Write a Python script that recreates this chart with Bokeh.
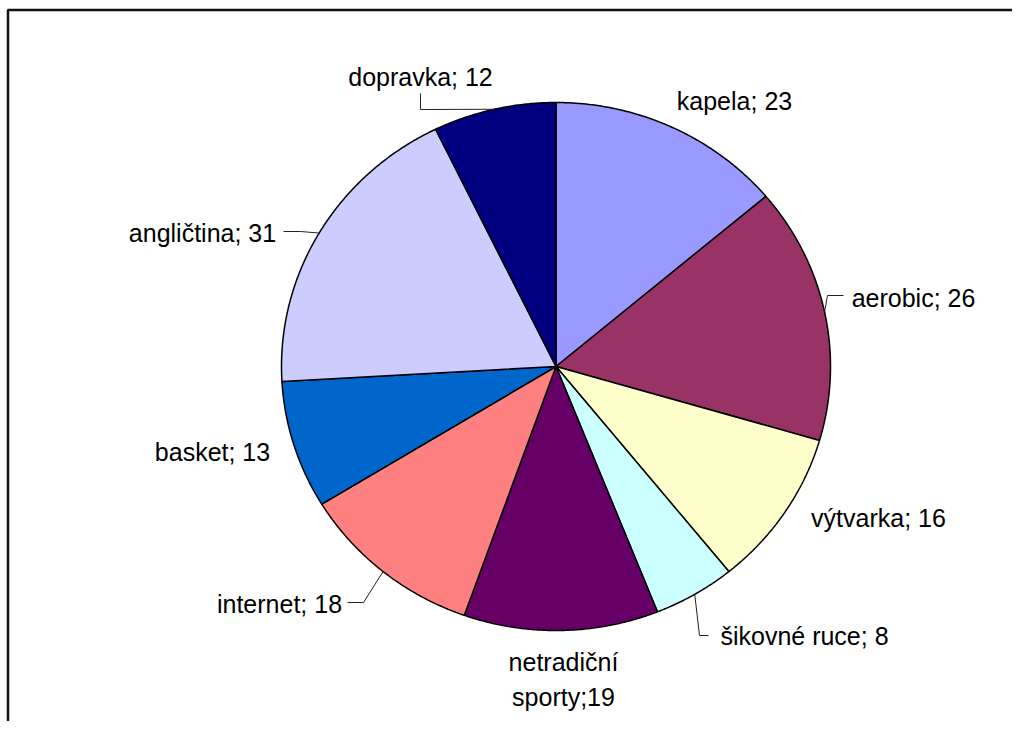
import numpy as np
from bokeh.plotting import figure
from bokeh.models import Range1d, ColumnDataSource
from bokeh.core.properties import value
from bokeh.embed import file_html
from bokeh.resources import INLINE

# ---- data ----
categories = ["kapela", "aerobic", "výtvarka", "šikovné ruce", "netradiční sporty",
              "internet", "basket", "angličtina", "dopravka"]
values = [23, 26, 16, 8, 19, 18, 13, 31, 12]
colors = ["#9999FF", "#993366", "#FFFFCC", "#CCFFFF", "#660066",
          "#FF8080", "#0066CC", "#CCCCFF", "#000080"]

# ---- layout (pixel-like coords, y downward) ----
W, H = 1012, 721
CX, CY = 555.5, 366.0
RX, RY = 274.5, 264.0
label_pos = [(734, 100), (913, 297), (878, 517), (804, 635), (563, 679),
             (279, 603), (212, 451), (202, 232), (420, 76)]
# leader-line points after the pie edge point (None = no leader)
leaders = [None, [(827, 295), (843, 295)], None, [(699, 635), (708, 635)], None,
           [(363, 602), (347, 602)], None, [(300, 231), (283, 231)],
           [(420, 109), (420, 93)]]
frame_path = ([7.5, 7.5, W], [H, 9.5, 9.5])

p = figure(width=W, height=H, x_range=Range1d(0, W), y_range=Range1d(H, 0),
           output_backend="svg", toolbar_location=None, min_border=0)
p.axis.visible = False
p.grid.visible = False
p.outline_line_color = None
p.background_fill_color = "white"
p.border_fill_color = "white"

# frame (top & left edges visible in the reference)
p.line(frame_path[0], frame_path[1], line_color="#111111", line_width=2.5)

total = float(sum(values))
xs, ys, mids = [], [], []
cum = 0.0
for v in values:
    a0 = cum / total * 2 * np.pi
    a1 = (cum + v) / total * 2 * np.pi
    t = np.linspace(a0, a1, max(8, int(v * 6)))
    xs.append([CX] + list(CX + RX * np.sin(t)) + [CX])
    ys.append([CY] + list(CY - RY * np.cos(t)) + [CY])
    mids.append((a0 + a1) / 2)
    cum += v

p.patches(xs, ys, fill_color=colors, line_color="black", line_width=1.5)

# leader lines
for m, ld in zip(mids, leaders):
    if ld is None:
        continue
    ex, ey = CX + RX * np.sin(m), CY - RY * np.cos(m)
    p.line([ex] + [q[0] for q in ld], [ey] + [q[1] for q in ld],
           line_color="#222222", line_width=1)

labels = []
for c, v in zip(categories, values):
    if c == "netradiční sporty":
        labels.append(f"netradiční\nsporty;{v}")
    else:
        labels.append(f"{c}; {v}")

src = ColumnDataSource(dict(x=[q[0] for q in label_pos], y=[q[1] for q in label_pos], t=labels))
p.text(x="x", y="y", text="t", source=src, text_align="center", text_baseline="middle",
       text_font=value("Liberation Sans"), text_font_size="25px", text_color="black",
       text_line_height=1.25)

open("out.html", "w").write(file_html(p, INLINE))
